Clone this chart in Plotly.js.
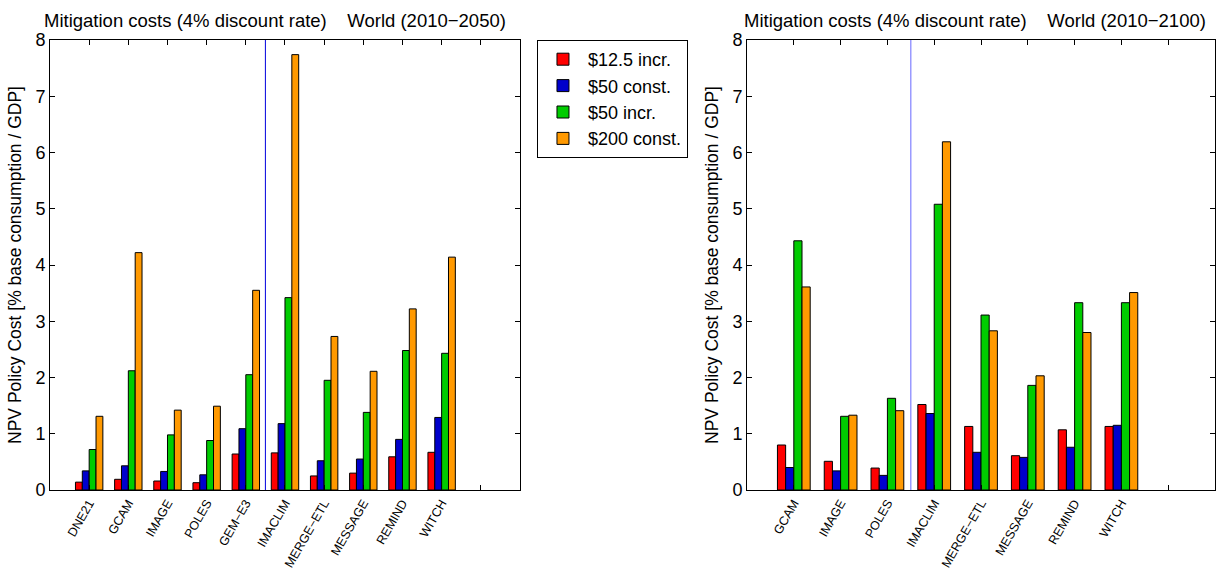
<!DOCTYPE html>
<html>
<head>
<meta charset="utf-8">
<script src="https://cdn.plot.ly/plotly-3.0.1.min.js"></script>
<style>html,body{margin:0;padding:0;background:#fff}#chart{width:1224px;height:569px}</style>
</head>
<body>
<div id="chart"></div>
<script>
// ---- data ----
const seriesNames = ['$12.5 incr.', '$50 const.', '$50 incr.', '$200 const.'];

const models2050 = ['DNE21','GCAM','IMAGE','POLES','GEM\u2212E3','IMACLIM','MERGE\u2212ETL','MESSAGE','REMIND','WITCH'];
const inc125_2050 = [0.14, 0.19, 0.16, 0.13, 0.64, 0.66, 0.25, 0.30, 0.59, 0.67];
const const50_2050 = [0.34, 0.43, 0.33, 0.27, 1.09, 1.18, 0.52, 0.55, 0.90, 1.29];
const inc50_2050 = [0.72, 2.12, 0.98, 0.88, 2.05, 3.42, 1.95, 1.38, 2.48, 2.43];
const const200_2050 = [1.31, 4.22, 1.42, 1.49, 3.55, 7.74, 2.73, 2.11, 3.22, 4.14];

const models2100 = ['GCAM','IMAGE','POLES','IMACLIM','MERGE\u2212ETL','MESSAGE','REMIND','WITCH'];
const inc125_2100 = [0.80, 0.51, 0.39, 1.52, 1.13, 0.61, 1.07, 1.13];
const const50_2100 = [0.40, 0.34, 0.26, 1.36, 0.67, 0.58, 0.76, 1.15];
const inc50_2100 = [4.43, 1.31, 1.63, 5.08, 3.11, 1.86, 3.33, 3.33];
const const200_2100 = [3.61, 1.33, 1.41, 6.19, 2.83, 2.03, 2.80, 3.51];

const separatorBefore = 'IMACLIM';
const panelTitles = ['Mitigation costs (4% discount rate)\u00a0\u00a0\u00a0\u00a0World (2010\u22122050)',
                     'Mitigation costs (4% discount rate)\u00a0\u00a0\u00a0\u00a0World (2010\u22122100)'];
const yTitle = 'NPV Policy Cost [% base consumption / GDP]';

// ---- styles ----
const colors = ['#ff0000', '#0000cc', '#00cc00', '#ff9900'];
const FONT = 'Liberation Sans, Arial, Helvetica, sans-serif';

function idx(arr){ return arr.map((_, i) => i + 1); }

const panels = [
  {models: models2050, series: [inc125_2050, const50_2050, inc50_2050, const200_2050], xa: 'x', ya: 'y', legend: true},
  {models: models2100, series: [inc125_2100, const50_2100, inc50_2100, const200_2100], xa: 'x2', ya: 'y2', legend: false}
];

const traces = [];
panels.forEach(p => {
  p.series.forEach((vals, s) => {
    traces.push({
      type: 'bar',
      x: idx(p.models),
      y: vals,
      name: seriesNames[s],
      legendgroup: seriesNames[s],
      showlegend: p.legend,
      xaxis: p.xa, yaxis: p.ya,
      marker: {color: colors[s], line: {color: '#000', width: 1}},
      hoverinfo: 'x+y'
    });
  });
});

function xaxisFor(models, domain, anchor){
  const tv = idx(models).concat([models.length + 1]);
  const tt = models.concat(['']);
  return {
    domain: domain, anchor: anchor,
    range: [0, models.length + 2],
    tickmode: 'array', tickvals: tv, ticktext: tt,
    tickangle: -60,
    ticks: 'inside', ticklen: 5, tickcolor: '#000',
    showline: true, linecolor: '#000', linewidth: 1, mirror: 'ticks',
    showgrid: false, zeroline: false,
    tickfont: {family: FONT, size: 12.5, color: '#000'}
  };
}
function yaxisFor(anchor){
  return {
    anchor: anchor, domain: [0, 1],
    range: [0, 8], dtick: 1,
    ticks: 'inside', ticklen: 5, tickcolor: '#000',
    showline: true, linecolor: '#000', linewidth: 1, mirror: 'ticks',
    showgrid: false, zeroline: false,
    tickfont: {family: FONT, size: 18, color: '#000'},
    title: {text: yTitle, font: {family: FONT, size: 17.5, color: '#000'}, standoff: 9}
  };
}

const sep1 = models2050.indexOf(separatorBefore) + 0.5;
const sep2 = models2100.indexOf(separatorBefore) + 0.5;

const layout = {
  width: 1224, height: 569,
  margin: {l: 50, r: 9, t: 40, b: 79},
  paper_bgcolor: '#fff', plot_bgcolor: '#fff',
  barmode: 'group', bargap: 0.3, bargroupgap: 0,
  font: {family: FONT, color: '#000'},
  xaxis: xaxisFor(models2050, [0, 0.4034], 'y'),
  yaxis: yaxisFor('x'),
  xaxis2: xaxisFor(models2100, [0.5983, 1], 'y2'),
  yaxis2: yaxisFor('x2'),
  showlegend: true,
  legend: {
    x: 0.418, y: 1, xanchor: 'left', yanchor: 'top',
    bordercolor: '#000', borderwidth: 1, bgcolor: '#fff',
    font: {family: FONT, size: 18, color: '#000'},
    itemwidth: 40, tracegroupgap: 0
  },
  shapes: [
    {type: 'line', xref: 'x', yref: 'y domain', x0: sep1, x1: sep1, y0: 0, y1: 1, line: {color: '#0000dd', width: 1}},
    {type: 'line', xref: 'x2', yref: 'y2 domain', x0: sep2, x1: sep2, y0: 0, y1: 1, line: {color: '#8080ff', width: 1.2}}
  ],
  annotations: [
    {text: panelTitles[0], xref: 'x domain', yref: 'y domain', x: 0.478, y: 1, xanchor: 'center', yanchor: 'bottom', yshift: 7, showarrow: false, font: {family: FONT, size: 18.5, color: '#000'}},
    {text: panelTitles[1], xref: 'x2 domain', yref: 'y2 domain', x: 0.487, y: 1, xanchor: 'center', yanchor: 'bottom', yshift: 7, showarrow: false, font: {family: FONT, size: 18.5, color: '#000'}}
  ]
};

Plotly.newPlot('chart', traces, layout, {displayModeBar: false, staticPlot: true});
</script>
</body>
</html>
